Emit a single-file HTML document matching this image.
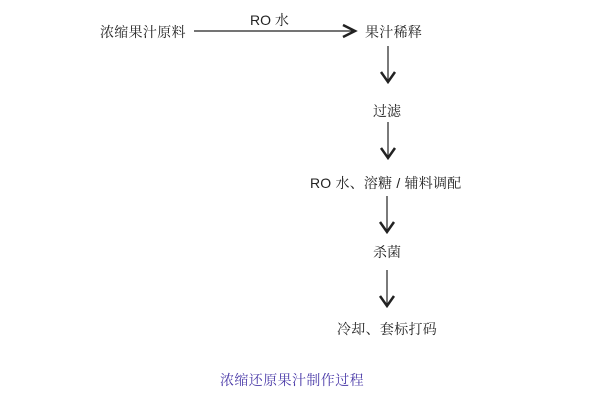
<!DOCTYPE html>
<html><head><meta charset="utf-8"><style>
html,body{margin:0;padding:0;background:#fff;}
body{width:600px;height:401px;position:relative;overflow:hidden;font-family:"Liberation Sans","Noto Serif CJK SC",serif;font-size:14px;color:#222;}
.t{position:absolute;white-space:nowrap;line-height:16px;}
</style></head><body>
<div class="t" style="left:100px;top:24px;letter-spacing:0.3px;">浓缩果汁原料</div>
<div class="t" style="left:250px;top:12px;">RO 水</div>
<div class="t" style="left:365px;top:24px;letter-spacing:0.3px;">果汁稀释</div>
<div class="t" style="left:373px;top:103px;">过滤</div>
<div class="t" style="left:310px;top:175px;letter-spacing:0.2px;">RO 水、溶糖 / 辅料调配</div>
<div class="t" style="left:373px;top:244px;">杀菌</div>
<div class="t" style="left:337px;top:321px;letter-spacing:0.3px;">冷却、套标打码</div>
<div class="t" style="left:220px;top:372px;color:#4a3aa8;letter-spacing:0.4px;">浓缩还原果汁制作过程</div>
<svg width="600" height="401" style="position:absolute;left:0;top:0">
<g stroke="#222" fill="none" stroke-width="1.2">
<line x1="194" y1="31" x2="354" y2="31"/>
<polyline points="343,25 355,31 343,37" stroke-width="2.5"/>
<line x1="388" y1="46" x2="388" y2="82"/>
<polyline points="381,72 388,82 395,72" stroke-width="2.5"/>
<line x1="388" y1="122" x2="388" y2="158"/>
<polyline points="381,148 388,158 395,148" stroke-width="2.5"/>
<line x1="387" y1="196" x2="387" y2="232"/>
<polyline points="380,222 387,232 394,222" stroke-width="2.5"/>
<line x1="387" y1="270" x2="387" y2="306"/>
<polyline points="380,296 387,306 394,296" stroke-width="2.5"/>
</g></svg>
</body></html>
